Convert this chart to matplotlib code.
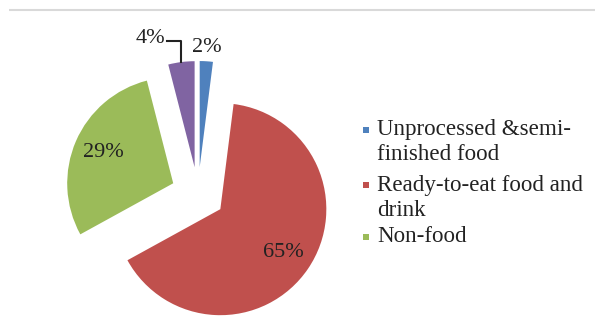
import math
import matplotlib
matplotlib.use("Agg")
import matplotlib.pyplot as plt
from matplotlib.patches import Rectangle

categories = ["Unprocessed &semi-\nfinished food", "Ready-to-eat food and\ndrink", "Non-food", "Other"]
shares = [2, 65, 29, 4]
colors = ["#4F81BD", "#C0504D", "#9BBB59", "#8064A2"]
legend_items = 3  # last slice has no legend entry

plt.rcParams["font.family"] = ["Liberation Serif", "DejaVu Serif"]

W, H = 595, 324
fig = plt.figure(figsize=(W / 100, H / 100), dpi=100)
ax = fig.add_axes([0, 0, 1, 1])

# pixel-based layout: pie centre, radius and explode offset
cx, cy = 198, H - 194
r = 106
gap = 27

wedges, texts, autotexts = ax.pie(
    shares, colors=colors, startangle=90, counterclock=False,
    center=(cx, cy), radius=r, explode=[gap] * len(shares),
    autopct="%1.0f%%", pctdistance=0.72,
    textprops=dict(fontsize=16, color="#222222"),
    frame=True)
ax.set_xlim(0, W)
ax.set_ylim(0, H)
ax.set_aspect("equal")
ax.axis("off")

# small slices: move labels outside
for w, t in zip(wedges, autotexts):
    frac = (w.theta2 - w.theta1) / 360
    if frac > 0.05:
        continue
    mid = math.radians((w.theta1 + w.theta2) / 2)
    x0, y0 = w.center
    ex, ey = x0 + r * math.cos(mid), y0 + r * math.sin(mid)
    if math.cos(mid) >= 0:
        t.set_position((x0 + 1.13 * r * math.cos(mid), y0 + 1.13 * r * math.sin(mid)))
    else:
        # leader line up and to the left
        lx, ly = ex - 14, ey + 21
        ax.plot([ex, ex, lx], [ey, ly, ly], color="#222222", lw=1.5)
        t.set_position((lx - 2, ly + 3))
        t.set_ha("right")

# legend
lx0 = 363
ys = [130, 185, 237]
for i in range(legend_items):
    y = H - ys[i]
    ax.add_patch(Rectangle((lx0, y - 3), 6, 6, color=colors[i], lw=0))
    lines = categories[i].split("\n")
    for k, line in enumerate(lines):
        ax.text(lx0 + 14, y - k * 25, line, fontsize=16.6, color="#222222",
                va="center", ha="left")

# top border line
ax.plot([9, W], [H - 10, H - 10], color="#d9d9d9", lw=1.5, solid_capstyle="butt")

fig.savefig("out.png", dpi=100)
